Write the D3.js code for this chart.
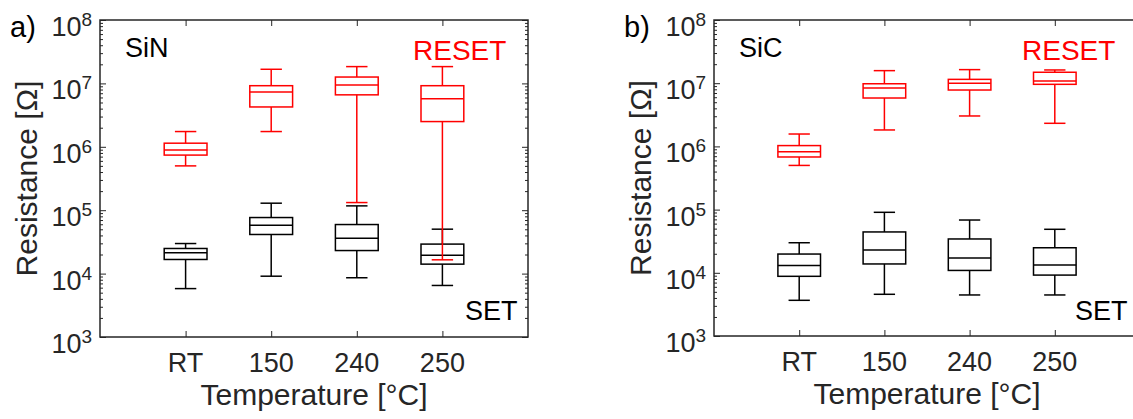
<!DOCTYPE html>
<html>
<head>
<meta charset="utf-8">
<script src="https://cdn.jsdelivr.net/npm/d3@7"></script>
<style>
  html, body { margin: 0; padding: 0; background: #fff; }
  svg { display: block; font-family: "Liberation Sans", Arial, sans-serif; }
</style>
</head>
<body>
<svg id="chart" width="1133" height="419"></svg>
<script>
// Temperature categories shared by both panels
const categories = ["RT", "150", "240", "250"];

// Box statistics per category: [whisker low, Q1, median, Q3, whisker high] in ohms
const sinReset = [
  [5.0e5, 7.4e5, 8.9e5, 1.14e6, 1.74e6],
  [1.74e6, 4.25e6, 7.3e6, 9.2e6, 1.67e7],
  [1.32e5, 6.6e6, 9.45e6, 1.26e7, 1.84e7],
  [1.65e4, 2.5e6, 5.75e6, 9.2e6, 1.84e7]
];
const sinSet = [
  [5.8e3, 1.67e4, 2.13e4, 2.49e4, 2.98e4],
  [9.1e3, 4.14e4, 5.8e4, 7.66e4, 1.29e5],
  [8.6e3, 2.31e4, 3.62e4, 5.94e4, 1.17e5],
  [6.5e3, 1.41e4, 1.95e4, 2.92e4, 5.02e4]
];
const sicReset = [
  [5.0e5, 6.8e5, 8.2e5, 1.03e6, 1.57e6],
  [1.82e6, 5.83e6, 8.4e6, 9.8e6, 1.58e7],
  [3.03e6, 7.8e6, 1.0e7, 1.15e7, 1.64e7],
  [2.32e6, 9.6e6, 1.08e7, 1.49e7, 1.62e7]
];
const sicSet = [
  [3.67e3, 8.8e3, 1.3e4, 1.98e4, 2.99e4],
  [4.57e3, 1.38e4, 2.3e4, 4.43e4, 9.06e4],
  [4.46e3, 1.09e4, 1.71e4, 3.43e4, 6.84e4],
  [4.46e3, 9.2e3, 1.33e4, 2.49e4, 4.88e4]
];

// Decade tick exponents for the log axis
const decadeExponents = [3, 4, 5, 6, 7, 8];

const AXIS = "#262626";
const svg = d3.select("#chart");

function drawPanel(opts) {
  const { left, right, top, bottom, tag, material, reset, set } = opts;
  const g = svg.append("g");

  const x = d3.scaleLinear().domain([0, categories.length + 1]).range([left, right]);
  const y = d3.scaleLog().domain([1e3, 1e8]).range([bottom, top]);

  const majors = decadeExponents.map(e => Math.pow(10, e));
  const minors = [];
  for (let e = 3; e < 8; e++) for (let m = 2; m <= 9; m++) minors.push(m * Math.pow(10, e));
  const catPos = categories.map((c, i) => i + 1);

  const styleAxis = sel => {
    sel.select(".domain").remove();
    sel.selectAll(".tick line").attr("stroke", AXIS).attr("stroke-width", 1);
    sel.selectAll(".tick text").remove();
  };

  // Left / right log axes with inward minor and major ticks
  g.append("g").attr("transform", `translate(${left},0)`)
    .call(d3.axisLeft(y).tickValues(minors).tickSizeInner(-3).tickSizeOuter(0)).call(styleAxis);
  g.append("g").attr("transform", `translate(${left},0)`)
    .call(d3.axisLeft(y).tickValues(majors).tickSizeInner(-6).tickSizeOuter(0)).call(styleAxis);
  g.append("g").attr("transform", `translate(${right},0)`)
    .call(d3.axisRight(y).tickValues(minors).tickSizeInner(-3).tickSizeOuter(0)).call(styleAxis);
  g.append("g").attr("transform", `translate(${right},0)`)
    .call(d3.axisRight(y).tickValues(majors).tickSizeInner(-6).tickSizeOuter(0)).call(styleAxis);

  // Bottom / top category axes with inward ticks
  g.append("g").attr("transform", `translate(0,${bottom})`)
    .call(d3.axisBottom(x).tickValues(catPos).tickSizeInner(-6).tickSizeOuter(0)).call(styleAxis);
  g.append("g").attr("transform", `translate(0,${top})`)
    .call(d3.axisTop(x).tickValues(catPos).tickSizeInner(-6).tickSizeOuter(0)).call(styleAxis);

  // Frame
  g.append("rect")
    .attr("x", left).attr("y", top)
    .attr("width", right - left).attr("height", bottom - top)
    .attr("fill", "none").attr("stroke", AXIS).attr("stroke-width", 1.5);

  // Decade labels 10^n
  decadeExponents.forEach(e => {
    const t = g.append("text")
      .attr("x", left - 8).attr("y", y(Math.pow(10, e)) + 16)
      .attr("text-anchor", "end").attr("fill", AXIS)
      .attr("font-size", 27);
    t.append("tspan").text("10");
    t.append("tspan").attr("dy", -10).attr("font-size", 19).text(e);
  });

  // Category labels
  categories.forEach((c, i) => {
    g.append("text")
      .attr("x", x(i + 1)).attr("y", bottom + 35)
      .attr("text-anchor", "middle").attr("fill", AXIS)
      .attr("font-size", 27).text(c);
  });

  // Axis titles
  g.append("text")
    .attr("x", (left + right) / 2).attr("y", bottom + 68)
    .attr("text-anchor", "middle").attr("fill", AXIS)
    .attr("font-size", 30).text("Temperature [°C]");
  const yMid = (top + bottom) / 2;
  g.append("text")
    .attr("transform", `translate(${left - 63},${yMid}) rotate(-90)`)
    .attr("text-anchor", "middle").attr("fill", AXIS)
    .attr("font-size", 30).text("Resistance [Ω]");

  // Panel tag and annotations
  g.append("text").attr("x", left - 90).attr("y", 37)
    .attr("fill", "#000").attr("font-size", 29).text(tag);
  g.append("text").attr("x", left + 25).attr("y", 57)
    .attr("fill", "#000").attr("font-size", 27).text(material);
  g.append("text").attr("x", opts.resetX).attr("y", 60)
    .attr("fill", "#ff0000").attr("font-size", 28).text("RESET");
  g.append("text").attr("x", opts.setX).attr("y", 320)
    .attr("fill", "#000").attr("font-size", 27).text("SET");

  // Box plots
  const drawBoxes = (data, color) => {
    const bg = g.append("g").attr("stroke", color).attr("stroke-width", 1.5).attr("fill", "none");
    data.forEach((d, i) => {
      const [lo, q1, med, q3, hi] = d;
      const c = i + 1;
      const xb0 = x(c - 0.25), xb1 = x(c + 0.25);
      const xc0 = x(c - 0.125), xc1 = x(c + 0.125);
      const xm = x(c);
      // whiskers
      bg.append("line").attr("x1", xm).attr("x2", xm).attr("y1", y(q3)).attr("y2", y(hi));
      bg.append("line").attr("x1", xm).attr("x2", xm).attr("y1", y(q1)).attr("y2", y(lo));
      bg.append("line").attr("x1", xc0).attr("x2", xc1).attr("y1", y(hi)).attr("y2", y(hi));
      bg.append("line").attr("x1", xc0).attr("x2", xc1).attr("y1", y(lo)).attr("y2", y(lo));
      // box and median
      bg.append("rect").attr("x", xb0).attr("y", y(q3))
        .attr("width", xb1 - xb0).attr("height", y(q1) - y(q3));
      bg.append("line").attr("x1", xb0).attr("x2", xb1).attr("y1", y(med)).attr("y2", y(med));
    });
  };
  drawBoxes(set, "#000");
  drawBoxes(reset, "#ff0000");
}

drawPanel({ left: 100, right: 528, top: 20, bottom: 337, tag: "a)", material: "SiN",
  reset: sinReset, set: sinSet, resetX: 413, setX: 465 });
drawPanel({ left: 714, right: 1140, top: 20, bottom: 336, tag: "b)", material: "SiC",
  reset: sicReset, set: sicSet, resetX: 1022, setX: 1075 });
</script>
</body>
</html>
